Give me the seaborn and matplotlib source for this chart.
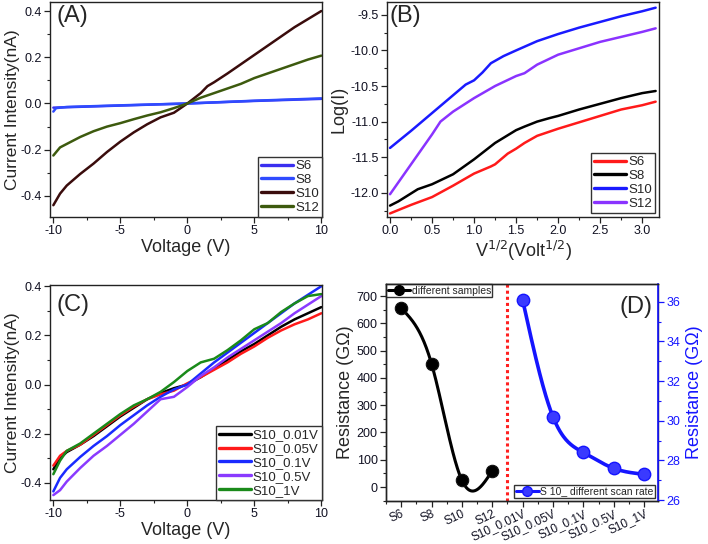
import numpy as np
import pandas as pd
import matplotlib
matplotlib.use("Agg")
import matplotlib.pyplot as plt
from matplotlib.lines import Line2D
from matplotlib.ticker import MultipleLocator
import seaborn as sns

# ---------------- data ----------------
# Panel A : I-V curves of samples
a_x = [-10, -9.5, -9, -8, -7, -6, -5, -4, -3, -2, -1, 0, 1, 1.5, 2, 3, 4, 5, 6, 7, 8, 9, 10]
a_s10 = [-0.44, -0.39, -0.355, -0.305, -0.26, -0.21, -0.165, -0.125, -0.09, -0.06, -0.04, 0.0,
         0.045, 0.075, 0.092, 0.13, 0.17, 0.21, 0.25, 0.29, 0.33, 0.365, 0.40]
a_x12 = [-10, -9.5, -9, -8, -7, -6, -5, -4, -3, -2, -1, 0, 1, 2, 3, 4, 5, 6, 7, 8, 9, 10]
a_s12 = [-0.225, -0.19, -0.175, -0.145, -0.12, -0.10, -0.085, -0.068, -0.052, -0.038, -0.02, 0.0,
         0.025, 0.045, 0.065, 0.085, 0.11, 0.13, 0.15, 0.17, 0.19, 0.207]
a_x6 = [-10, -5, 0, 5, 10]
a_s6 = [-0.018, -0.009, 0.0, 0.011, 0.020]
a_x8 = [-10, -9.8, -9, -5, 0, 5, 10]
a_s8 = [-0.035, -0.02, -0.015, -0.008, 0.0, 0.012, 0.022]
a_labels = ["S6", "S8", "S10", "S12"]
a_colors = ["#3a2ff0", "#2f4bff", "#3a0c0c", "#3d5a0e"]

# Panel B : Log(I) vs V^1/2
b_x6 = [0, 0.25, 0.5, 0.75, 1.0, 1.2, 1.25, 1.4, 1.5, 1.6, 1.75, 2.0, 2.25, 2.5, 2.75, 3.0, 3.16]
b_s6 = [-12.29, -12.17, -12.06, -11.9, -11.73, -11.63, -11.6, -11.45, -11.38, -11.3, -11.2,
        -11.1, -11.01, -10.92, -10.83, -10.77, -10.72]
b_x8 = [0, 0.1, 0.33, 0.5, 0.75, 1.0, 1.25, 1.5, 1.6, 1.75, 1.9, 2.0, 2.25, 2.5, 2.75, 3.0, 3.16]
b_s8 = [-12.18, -12.12, -11.95, -11.88, -11.74, -11.53, -11.3, -11.12, -11.07, -11.0, -10.95,
        -10.92, -10.83, -10.75, -10.67, -10.6, -10.57]
b_x10 = [0, 0.25, 0.5, 0.75, 0.9, 1.0, 1.1, 1.2, 1.35, 1.5, 1.75, 2.0, 2.25, 2.5, 2.75, 3.0, 3.16]
b_s10 = [-11.37, -11.13, -10.88, -10.63, -10.48, -10.42, -10.31, -10.18, -10.08, -10.0, -9.87,
         -9.77, -9.68, -9.6, -9.52, -9.45, -9.40]
b_x12 = [0, 0.25, 0.5, 0.6, 0.75, 1.0, 1.25, 1.5, 1.6, 1.75, 2.0, 2.25, 2.5, 2.75, 3.0, 3.16]
b_s12 = [-12.02, -11.6, -11.18, -11.0, -10.86, -10.67, -10.5, -10.36, -10.32, -10.2, -10.06,
         -9.97, -9.88, -9.81, -9.74, -9.69]
b_labels = ["S6", "S8", "S10", "S12"]
b_colors = ["#ff1a1a", "#000000", "#1a1aff", "#8a33ff"]

# Panel C : I-V of S10 at different scan rates
c_x = [-10, -9.5, -9, -8, -7, -6, -5, -4, -3, -2, -1, 0, 1, 2, 3, 4, 5, 6, 7, 8, 9, 10]
c_001 = [-0.345, -0.30, -0.275, -0.245, -0.21, -0.17, -0.13, -0.095, -0.06, -0.035, -0.015, 0.0,
         0.03, 0.065, 0.10, 0.135, 0.165, 0.20, 0.235, 0.265, 0.29, 0.315]
c_005 = [-0.33, -0.29, -0.27, -0.245, -0.205, -0.165, -0.125, -0.09, -0.06, -0.04, -0.025, 0.005,
         0.03, 0.06, 0.09, 0.125, 0.155, 0.19, 0.22, 0.245, 0.265, 0.29]
c_01 = [-0.435, -0.38, -0.345, -0.295, -0.25, -0.21, -0.165, -0.125, -0.085, -0.05, -0.02, 0.0,
        0.045, 0.09, 0.13, 0.17, 0.21, 0.25, 0.29, 0.33, 0.365, 0.40]
c_05 = [-0.45, -0.43, -0.395, -0.34, -0.29, -0.25, -0.205, -0.16, -0.11, -0.06, -0.05, -0.01,
        0.035, 0.07, 0.11, 0.145, 0.18, 0.215, 0.25, 0.29, 0.325, 0.36]
c_1 = [-0.365, -0.31, -0.27, -0.24, -0.20, -0.16, -0.12, -0.085, -0.06, -0.03, 0.01, 0.055,
       0.09, 0.105, 0.14, 0.18, 0.225, 0.25, 0.295, 0.33, 0.36, 0.368]
c_labels = ["S10_0.01V", "S10_0.05V", "S10_0.1V", "S10_0.5V", "S10_1V"]
c_colors = ["#000000", "#ff1a1a", "#1a2aff", "#8a3aff", "#1a8a1a"]

# Panel D : resistance
d_samples = ["S6", "S8", "S10", "S12"]
d_res_samples = [655, 452, 25, 60]
d_rates = ["S10_0.01V", "S10_0.05V", "S10_0.1V", "S10_0.5V", "S10_1V"]
d_res_rates = [36.1, 30.2, 28.4, 27.6, 27.3]

# ---------------- style ----------------
sns.set_style("ticks")
plt.rcParams["font.family"] = ["Liberation Sans", "DejaVu Sans"]
plt.rcParams["axes.unicode_minus"] = False
plt.rcParams["axes.linewidth"] = 1.0
plt.rcParams["xtick.direction"] = "out"
plt.rcParams["ytick.direction"] = "out"

TICK_FS = 9
LAB_FS = 12.5
LEG_FS = 9.5
LW = 1.8

fig = plt.figure(figsize=(7.08, 5.44), dpi=100)
axA = fig.add_axes([50 / 708, 1 - 217 / 544, 272 / 708, 215 / 544])
axB = fig.add_axes([387 / 708, 1 - 217 / 544, 272 / 708, 215 / 544])
axC = fig.add_axes([50 / 708, 1 - 500 / 544, 272 / 708, 215 / 544])
axD = fig.add_axes([386 / 708, 1 - 501 / 544, 272 / 708, 217 / 544])


def style_axes(ax):
    for s in ax.spines.values():
        s.set_color("#222222")
        s.set_linewidth(1.0)
    ax.tick_params(which="major", length=4, width=0.9, labelsize=TICK_FS, colors="#222222",
                   labelcolor="#111122", pad=2)
    ax.tick_params(which="minor", length=2.2, width=0.8, colors="#222222")


def make_df(xs, ys, labels):
    frames = []
    for x, y, lab in zip(xs, ys, labels):
        frames.append(pd.DataFrame({"x": x, "y": y, "series": lab}))
    return pd.concat(frames, ignore_index=True)


def legend_lr(ax, pad, fs=LEG_FS):
    h, l = ax.get_legend_handles_labels()
    for hh in h:
        hh.set_linewidth(2.4)
    leg = ax.legend(h, l, loc="lower right", fontsize=fs, frameon=True, fancybox=False,
                    framealpha=1, edgecolor="#333333", borderaxespad=pad, handlelength=2.4,
                    handletextpad=0.15, labelspacing=0.12, borderpad=0.25)
    leg.get_frame().set_linewidth(1.0)
    return leg


# ---------- Panel A ----------
dfA = make_df([a_x6, a_x8, a_x, a_x12], [a_s6, a_s8, a_s10, a_s12], a_labels)
sns.lineplot(data=dfA, x="x", y="y", hue="series", hue_order=a_labels,
             palette=dict(zip(a_labels, a_colors)), sort=False, estimator=None, lw=LW, ax=axA)
axA.set_xlim(-10.25, 10.05)
axA.set_ylim(-0.491, 0.439)
axA.xaxis.set_major_locator(MultipleLocator(5))
axA.xaxis.set_minor_locator(MultipleLocator(2.5))
axA.yaxis.set_major_locator(MultipleLocator(0.2))
axA.yaxis.set_minor_locator(MultipleLocator(0.1))
axA.set_xlabel("Voltage (V)", fontsize=13, labelpad=1)
axA.set_ylabel("Current Intensity(nA)", fontsize=LAB_FS, labelpad=0)
style_axes(axA)
legend_lr(axA, 0)
axA.text(0.025, 0.985, "(A)", transform=axA.transAxes, fontsize=17, ha="left", va="top")

# ---------- Panel B ----------
dfB = make_df([b_x6, b_x8, b_x10, b_x12], [b_s6, b_s8, b_s10, b_s12], b_labels)
sns.lineplot(data=dfB, x="x", y="y", hue="series", hue_order=b_labels,
             palette=dict(zip(b_labels, b_colors)), sort=False, estimator=None, lw=LW, ax=axB)
axB.set_xlim(-0.036, 3.2)
axB.set_ylim(-12.34, -9.32)
axB.xaxis.set_major_locator(MultipleLocator(0.5))
axB.xaxis.set_minor_locator(MultipleLocator(0.25))
axB.yaxis.set_major_locator(MultipleLocator(0.5))
axB.yaxis.set_minor_locator(MultipleLocator(0.25))
axB.set_xlabel("V$^{1/2}$(Volt$^{1/2}$)", fontsize=13, labelpad=1)
axB.set_ylabel("Log(I)", fontsize=13, labelpad=2)
style_axes(axB)
legend_lr(axB, 0.3)
axB.text(0.01, 0.985, "(B)", transform=axB.transAxes, fontsize=17, ha="left", va="top")

# ---------- Panel C ----------
dfC = make_df([c_x] * 5, [c_001, c_005, c_01, c_05, c_1], c_labels)
sns.lineplot(data=dfC, x="x", y="y", hue="series", hue_order=c_labels,
             palette=dict(zip(c_labels, c_colors)), sort=False, estimator=None, lw=LW, ax=axC)
axC.set_xlim(-10.25, 10.05)
axC.set_ylim(-0.47, 0.405)
axC.xaxis.set_major_locator(MultipleLocator(5))
axC.xaxis.set_minor_locator(MultipleLocator(2.5))
axC.yaxis.set_major_locator(MultipleLocator(0.2))
axC.yaxis.set_minor_locator(MultipleLocator(0.1))
axC.set_xlabel("Voltage (V)", fontsize=13, labelpad=1)
axC.set_ylabel("Current Intensity(nA)", fontsize=LAB_FS, labelpad=0)
style_axes(axC)
legend_lr(axC, 0)
axC.text(0.025, 0.96, "(C)", transform=axC.transAxes, fontsize=17, ha="left", va="top")


# ---------- Panel D ----------
def natural_spline(x, y, n=200):
    x = np.asarray(x, float)
    y = np.asarray(y, float)
    k = len(x)
    h = np.diff(x)
    A = np.zeros((k, k))
    r = np.zeros(k)
    A[0, 0] = A[-1, -1] = 1
    for i in range(1, k - 1):
        A[i, i - 1] = h[i - 1]
        A[i, i] = 2 * (h[i - 1] + h[i])
        A[i, i + 1] = h[i]
        r[i] = 3 * ((y[i + 1] - y[i]) / h[i] - (y[i] - y[i - 1]) / h[i - 1])
    c = np.linalg.solve(A, r)
    xs = np.linspace(x[0], x[-1], n)
    idx = np.clip(np.searchsorted(x, xs) - 1, 0, k - 2)
    dx = xs - x[idx]
    b = (y[1:] - y[:-1]) / h - h * (2 * c[:-1] + c[1:]) / 3
    d = (c[1:] - c[:-1]) / (3 * h)
    ys = y[idx] + b[idx] * dx + c[idx] * dx ** 2 + d[idx] * dx ** 3
    return xs, ys


pos_s = np.arange(len(d_samples))
pos_r = np.arange(len(d_rates)) + len(d_samples)

xs_s, ys_s = natural_spline(pos_s, d_res_samples)
sns.lineplot(x=xs_s, y=ys_s, color="black", lw=2.2, sort=False, estimator=None, ax=axD)
sns.scatterplot(x=pos_s, y=d_res_samples, color="black", s=80, marker="o", edgecolor="#111111",
                linewidth=0.8, ax=axD, zorder=5)
axD.set_xlim(-0.5, 8.46)
axD.set_ylim(-51, 744)
axD.yaxis.set_major_locator(MultipleLocator(100))
axD.yaxis.set_minor_locator(MultipleLocator(50))
axD.set_xticks(list(pos_s) + list(pos_r))
axD.set_xticklabels(d_samples + d_rates, rotation=25, ha="right", rotation_mode="anchor")
axD.xaxis.set_minor_locator(MultipleLocator(0.5))
axD.set_ylabel("Resistance (G\u03a9)", fontsize=13, labelpad=2)
axD.axvline(3.5, color="#ff2020", ls=(0, (1, 1)), lw=2.2, zorder=1)
style_axes(axD)

axD2 = axD.twinx()
xs_r, ys_r = natural_spline(pos_r, d_res_rates)
sns.lineplot(x=xs_r, y=ys_r, color="#1515ff", lw=2.6, sort=False, estimator=None, ax=axD2)
sns.scatterplot(x=pos_r, y=d_res_rates, color="#3a3aff", s=80, marker="o", edgecolor="#1515ff",
                linewidth=1.0, ax=axD2, zorder=5)
axD2.set_ylim(25.95, 36.9)
axD2.yaxis.set_major_locator(MultipleLocator(2))
axD2.yaxis.set_minor_locator(MultipleLocator(1))
axD2.set_ylabel("Resistance (G\u03a9)", fontsize=13, color="#1515ff", labelpad=4)
style_axes(axD2)
axD2.spines["right"].set_color("#1515ff")
axD2.spines["right"].set_linewidth(1.2)
axD2.tick_params(axis="y", which="both", colors="#1515ff", labelcolor="#1515ff")
axD.tick_params(axis="x", labelsize=8.5, pad=1)

leg1 = axD.legend(handles=[Line2D([], [], color="black", lw=2.2, marker="o", ms=7)],
                  labels=["different samples"], loc="upper left", fontsize=7.5, frameon=True,
                  fancybox=False, framealpha=1, edgecolor="#333333", borderaxespad=0,
                  handlelength=2.2, handletextpad=0.1, borderpad=0.15)
leg1.get_frame().set_linewidth(1.0)
leg2 = axD2.legend(handles=[Line2D([], [], color="#1515ff", lw=2.2, marker="o", ms=7,
                                   markerfacecolor="#3a3aff")],
                   labels=["S 10_ different scan rate"], loc="lower right", fontsize=7.5,
                   frameon=True, fancybox=False, framealpha=1, edgecolor="#333333",
                   borderaxespad=0.3, handlelength=2.2, handletextpad=0.1, borderpad=0.15)
leg2.get_frame().set_linewidth(1.0)
axD2.text(0.978, 0.945, "(D)", transform=axD2.transAxes, fontsize=17, ha="right", va="top")

fig.savefig("out.png", dpi=100)
